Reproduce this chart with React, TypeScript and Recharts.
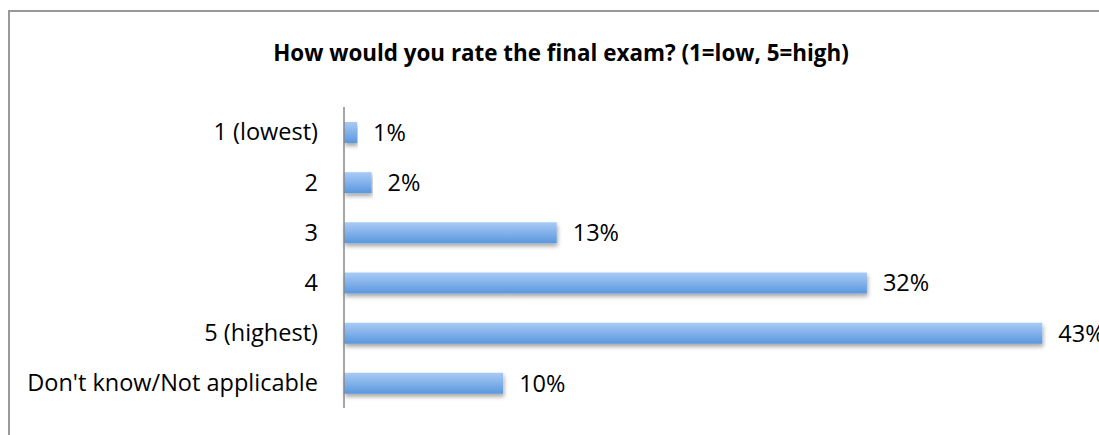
import React from "react"
import { BarChart, Bar, XAxis, YAxis, LabelList } from "recharts"

const categories = ["1 (lowest)", "2", "3", "4", "5 (highest)", "Don't know/Not applicable"]
const shares = [0.8, 1.7, 13.1, 32.2, 43.0, 9.8]
const chartTitle = "How would you rate the final exam? (1=low, 5=high)"

const data = categories.map((name, i) => ({ name, value: shares[i] }))

const font = "'Open Sans', Lato, sans-serif"

export default function App() {
  return (
    <div
      style={{
        position: "absolute",
        left: 8,
        top: 10,
        width: 1091,
        height: 425,
        boxSizing: "border-box",
        borderTop: "2px solid #999",
        borderLeft: "2px solid #999",
        overflow: "hidden",
        background: "#fff",
        fontFamily: font,
      }}
    >
      <div
        style={{
          position: "absolute",
          left: 0,
          top: 29,
          width: 1102,
          textAlign: "center",
          fontWeight: 700,
          fontSize: 22.4,
          color: "#000",
          lineHeight: "24px",
        }}
      >
        {chartTitle}
      </div>
      <BarChart
        width={1089}
        height={423}
        data={data}
        layout="vertical"
        margin={{ top: 95, right: 8, bottom: 27, left: 0 }}
        barSize={21}
      >
        <defs>
          <linearGradient id="barGrad" x1="0" y1="0" x2="0" y2="1">
            <stop offset="0%" stopColor="#a9cbf6" />
            <stop offset="100%" stopColor="#5a97de" />
          </linearGradient>
          <filter id="barShadow" x="-5%" y="-30%" width="110%" height="180%">
            <feDropShadow dx="1" dy="3" stdDeviation="2" floodColor="#000" floodOpacity="0.35" />
          </filter>
        </defs>
        <XAxis type="number" domain={[0, 46]} hide />
        <YAxis
          type="category"
          dataKey="name"
          width={334}
          axisLine={{ stroke: "#888", strokeWidth: 1.5 }}
          tickLine={false}
          tickSize={24}
          tickMargin={2}
          tick={{ fill: "#000", fontSize: 23.5, fontFamily: font }}
          interval={0}
        />
        <Bar dataKey="value" fill="url(#barGrad)" style={{ filter: "url(#barShadow)" }} isAnimationActive={false}>
          <LabelList
            dataKey="value"
            position="right"
            offset={16}
            formatter={(v: any) => `${Math.round(Number(v))}%`}
            style={{ fill: "#000", fontSize: 23.5, fontFamily: font }}
          />
        </Bar>
      </BarChart>
    </div>
  )
}
